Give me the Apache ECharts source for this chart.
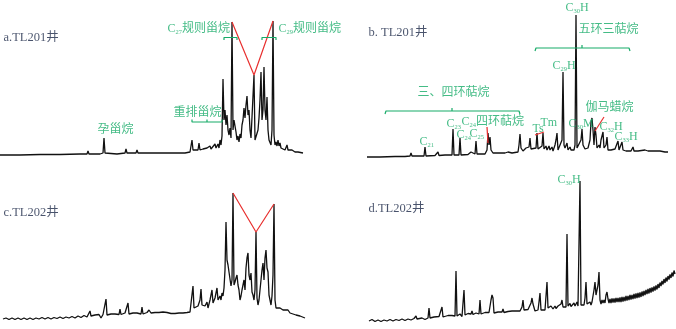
<!DOCTYPE html>
<html><head><meta charset="utf-8">
<script src="https://cdn.jsdelivr.net/npm/echarts@6/dist/echarts.min.js"></script>
<style>html,body{margin:0;padding:0;background:#fff}#c{width:676px;height:329px}</style>
</head><body><div id="c"></div><script>
// Chromatogram traces: [retention position, abundance]
const traceA = [[0,5],[20,5],[40,5.5],[60,5.5],[80,6],[87,6],[88,9],[89,6],[100,6],[103,7],[104,22],[105,7],[107,6],[117,6],[118,8],[119,6],[125,7],[126,11],[127,7],[136,7],[137,10],[138,7],[150,7],[160,7],[175,7],[185,7],[190,8],[191,10],[192,20],[193,10],[195,9],[198,10],[199,17],[200,10],[203,11],[205,9],[207,12],[209,10],[210,14],[211,11],[213,13],[215,16],[216,12],[218,16],[219,12],[220,20],[221,15],[222,24],[223,81],[224,40],[225,50],[226,35],[227,45],[228,30],[229,25],[230,32],[231,22],[232,138],[233,30],[234,40],[235,42],[236,28],[237,20],[238,24],[239,18],[240,26],[241,22],[242,35],[243,40],[244,52],[245,42],[246,55],[247,64],[248,45],[249,50],[250,30],[251,22],[252,20],[253,22],[254,85],[255,20],[256,18],[257,22],[258,30],[259,42],[260,60],[261,88],[262,40],[263,50],[264,93],[265,50],[266,40],[267,63],[268,30],[269,20],[270,18],[271,15],[272,30],[273,139],[274,25],[275,15],[276,18],[277,14],[278,20],[279,14],[280,17],[281,12],[283,13],[285,10],[287,15],[288,10],[290,9],[292,10],[295,8],[298,8],[303,7]];
const traceB = [[367,3],[380,3],[395,3.5],[405,3.5],[410,4],[411,7],[412,4],[420,4],[424,4],[425,13],[426,4],[435,4.5],[437,4.5],[438,8],[439,4.5],[445,5],[452,5],[453,31],[454,5],[459,5],[460,22],[461,5],[468,5.5],[470,6],[471,8],[472,6],[475,6],[476,19],[477,6],[485,6],[487,10],[488,27],[489,15],[490,23],[491,10],[493,7],[498,7],[505,7],[508,8],[512,7],[518,8],[519,15],[520,26],[521,12],[523,9],[526,12],[527,10],[529,13],[530,22],[531,11],[533,10],[536,12],[537,27],[538,11],[540,13],[542,14],[543,27],[544,11],[546,14],[547,10],[549,14],[550,10],[552,13],[553,9],[555,15],[556,20],[557,27],[558,10],[560,10],[562,20],[563,88],[564,15],[565,12],[567,17],[568,10],[570,13],[571,10],[573,12],[574,10],[575,15],[576,145],[577,12],[579,10],[581,20],[582,31],[583,15],[585,11],[588,12],[590,20],[591,38],[592,42],[593,30],[594,15],[595,33],[596,25],[597,12],[599,15],[600,12],[601,20],[603,28],[604,12],[606,15],[607,23],[608,10],[611,10],[613,12],[615,11],[617,10],[618,19],[619,10],[621,12],[622,18],[623,10],[626,9],[628,10],[631,9],[633,13],[634,9],[638,9],[640,9],[645,10],[648,9],[650,11],[655,9],[660,9],[665,8],[668,8]];
const traceC = [[3,6],[6,7],[9,5.5],[12,7],[15,5.5],[18,7],[21,5.5],[24,7],[27,5.5],[30,7],[33,5.5],[36,7],[39,6],[42,7.5],[45,6],[48,7.5],[51,6],[54,7.5],[57,6.5],[60,8],[63,6.5],[66,8],[69,7],[72,8.5],[75,7],[78,9],[81,7.5],[84,9.5],[87,8],[89,9],[90,14],[91,9],[93,8.5],[95,10],[97,8],[99,10.5],[101,7],[103,10.5],[105,9.5],[106,26],[107,10],[109,9],[111,11],[113,9.5],[115,11],[117,9.5],[119,10.5],[120,16],[121,10.5],[123,10],[125,12],[127,10.5],[128,22],[129,11],[131,10],[133,12],[135,10.5],[137,12],[139,10.5],[141,11],[142,18],[143,11],[145,10.5],[147,12.5],[148,12],[149,15],[150,16],[151,12],[153,11],[155,12.5],[157,11],[159,12.5],[161,11],[163,13],[165,11.5],[167,12.5],[168,14],[169,12],[171,11.5],[173,13.5],[175,11.5],[177,13.5],[179,12],[181,14],[183,12],[185,13.5],[187,12.5],[189,14],[190,13],[192,15],[193,39],[194,17],[196,15],[198,19],[200,25],[201,36],[202,20],[205,19],[207,23],[208,17],[210,25],[211,30],[212,35],[213,22],[215,27],[216,32],[217,37],[218,25],[220,29],[221,25],[222,32],[223,29],[224,37],[225,55],[226,103],[227,65],[228,60],[229,53],[230,55],[231,39],[232,45],[233,132],[234,40],[235,43],[236,47],[237,50],[238,40],[239,35],[240,25],[241,29],[242,35],[243,40],[244,45],[245,35],[246,57],[247,67],[248,72],[249,50],[250,45],[251,52],[252,33],[253,30],[254,25],[255,35],[256,93],[257,27],[258,20],[259,25],[260,35],[261,45],[262,55],[263,62],[264,45],[265,67],[266,75],[267,57],[268,53],[269,30],[270,25],[271,20],[272,29],[273,50],[274,121],[275,25],[276,17],[278,15],[280,17],[282,19],[283,15],[285,14],[288,15],[289,13],[290,12],[293,11],[296,10],[300,9],[305,7]];
const traceD = [[369,4],[372,5.5],[375,3.5],[378,5],[381,3.5],[384,5],[387,4],[390,5.5],[393,4],[396,5.5],[399,4.5],[402,6],[405,4.5],[408,6],[411,5],[414,6.5],[415,6],[416,9],[417,6],[419,5],[422,7],[425,5.5],[428,7],[429,17],[430,7],[432,6],[434,8],[436,6.5],[439,8.5],[441,8],[442,18],[443,8],[445,7],[448,9.5],[450,7.5],[452,9.5],[454,8],[455,9],[456,54],[457,9],[459,8],[460,11],[462,8.5],[463,10],[464,35],[465,10],[467,9],[468,11.5],[470,9.5],[471,11],[472,14],[473,10.5],[475,9.5],[476,12],[478,10],[479,11],[480,25],[481,11],[483,10],[485,12.5],[487,10.5],[489,12.5],[490,11.5],[491,25],[492,30],[493,27],[494,12],[496,11],[498,13],[500,11],[502,13],[503,16],[504,12.5],[506,11.5],[508,13.5],[510,11.5],[512,14],[514,12],[516,14],[518,12.5],[520,14],[522,18],[523,25],[524,15],[526,13],[528,15.5],[530,14],[531,22],[532,27],[533,21],[535,14],[537,16],[538,15],[539,23],[540,32],[541,15],[543,17],[545,15],[546,17],[547,43],[548,17],[550,16],[551,19],[552,20],[553,16],[555,19],[556,16.5],[558,19],[559,17],[561,21],[562,25],[563,18],[565,20],[566,18],[567,91],[568,19],[570,21.5],[571,18.5],[572,20],[574,22],[575,19],[577,23],[578,19],[579,20],[580,144],[581,20],[583,22],[584,20],[585,27],[586,43],[587,21],[589,19],[590,23],[591,20],[592,23],[594,35],[595,43],[596,30],[597,35],[598,40],[599,53],[600,25],[601,21],[602,25],[603,22],[604,25],[605,22],[606,30],[607,33],[608,26],[609,22],[610,26],[611,22],[612,26.5],[613,22.5],[614,26.5],[615,22.5],[616,27],[617,23],[618,27],[619,23],[620,27.5],[621,23],[622,28],[623,23.5],[624,28],[625,24],[626,29],[627,24.5],[628,29],[629,25],[630,30],[631,25.5],[632,30],[633,26],[634,31],[635,26.5],[636,31.5],[637,27],[638,32],[639,27.5],[640,32.5],[641,28],[642,33.5],[643,29],[644,34],[645,30],[646,35],[647,31],[648,36],[649,31.5],[650,37],[651,32.5],[652,37.5],[653,33.5],[654,38.5],[655,34.5],[656,39.5],[657,35.5],[658,41],[659,37],[660,42.5],[661,39],[662,44],[663,40.5],[664,46],[665,42],[666,47.5],[667,43.5],[668,49],[669,45.5],[670,50.5],[671,47],[672,52.5],[673,48.5],[674,54.5],[675,51]];

// Regular sterane V-lines (C27 - C28 - C29 peak tops)
const steraneA = [[232,138],[254,85],[273,139]];
const steraneC = [[233,132],[256,93],[274,121]];
// red pointer lines in panel b
const pointersB = [[[487,33],[488,17]],[[535,25],[544,28]],[[595,29],[604,43]]];
// group brackets
const bracketsA = [
  [[224,120],[224,122.5],[237,122.5],[237,120]],
  [[262,120],[262,122.5],[276,122.5],[276,120]],
  [[192,40.5],[192,38],[222,38],[222,40.5]],
  [[207,38],[207,40.5]]
];
const bracketsB = [
  [[385,46],[386,49],[519,49],[520,46]],
  [[452,49],[452,52]],
  [[535,109],[536,112],[629,112],[630,109]],
  [[582,112],[582,115]]
];
// annotations [x, y, text]
const labelsA = [[97,30,'孕甾烷'],[173,47,'重排甾烷'],[167,131,'C{s|27}规则甾烷'],[278,131,'C{s|29}规则甾烷']];
const labelsB = [[565,152,'C{s|30}H'],[578,130,'五环三萜烷'],[552,94,'C{s|29}H'],[417,67,'三、四环萜烷'],[419,18,'C{s|21}'],[446,36,'C{s|23}'],[461,38,'C{s|24}四环萜烷'],[456,25,'C{s|24}'],[469,26,'C{s|25}'],[532,31,'Ts'],[540,37,'Tm'],[568,36,'C{s|30}M'],[585,52,'伽马蜡烷'],[599,33,'C{s|32}H'],[614,23,'C{s|33}H']];
const labelsC = [];
const labelsD = [[557,145,'C{s|30}H']];
const titles = [[0,3,122,'a.TL201井'],[1,368,127,'b. TL201井'],[2,3,112,'c.TL202井'],[3,368,116,'d.TL202井']];

const GREEN = '#17ab68', RED = '#e8302f', INK = '#111111', NAVY = '#1b2847';
const FONT = "'Liberation Serif','Noto Sans CJK SC',serif";

const grids = [
  {left:0, top:0, width:340, height:160},
  {left:340, top:0, width:336, height:160},
  {left:0, top:165, width:340, height:160},
  {left:340, top:165, width:336, height:160}
];
const xr = [[0,340],[340,676],[0,340],[340,676]];
const series = [];
function line(data, i, color, w, z){
  series.push({type:'line', xAxisIndex:i, yAxisIndex:i, data:data, symbol:'none', silent:true,
    lineStyle:{color:color, width:w}, z:z||2, animation:false});
}
[traceA, traceB, traceC, traceD].forEach((t,i)=>line(t,i,INK,1.3,2));
line(steraneA,0,RED,1.2,3);
line(steraneC,2,RED,1.2,3);
pointersB.forEach(p=>line(p,1,RED,1.2,3));
bracketsA.forEach(b=>line(b,0,GREEN,1.2,3));
bracketsB.forEach(b=>line(b,1,GREEN,1.2,3));
function labels(arr, i, color, size){
  if(!arr.length) return;
  series.push({type:'scatter', xAxisIndex:i, yAxisIndex:i, data:arr, symbol:'circle', symbolSize:1,
    itemStyle:{color:'rgba(0,0,0,0)'}, silent:true, z:5, animation:false,
    label:{show:true, position:'right', distance:0, color:color, fontSize:size, fontFamily:FONT,
      formatter:p=>p.data[2],
      rich:{s:{fontSize:6.5, color:color, fontFamily:FONT, verticalAlign:'bottom', lineHeight:14}}}});
}
labels(labelsA,0,GREEN,12); labels(labelsB,1,GREEN,12); labels(labelsC,2,GREEN,12); labels(labelsD,3,GREEN,12);
titles.forEach(t=>labels([[t[1],t[2],t[3]]], t[0], NAVY, 12.5));

const chart = echarts.init(document.getElementById('c'), null, {renderer:'canvas'});
chart.setOption({
  animation:false,
  backgroundColor:'#fff',
  grid: grids,
  xAxis: xr.map((r,i)=>({type:'value', gridIndex:i, min:r[0], max:r[1], show:false})),
  yAxis: grids.map((g,i)=>({type:'value', gridIndex:i, min:0, max:160, show:false})),
  series: series
});
</script></body></html>
